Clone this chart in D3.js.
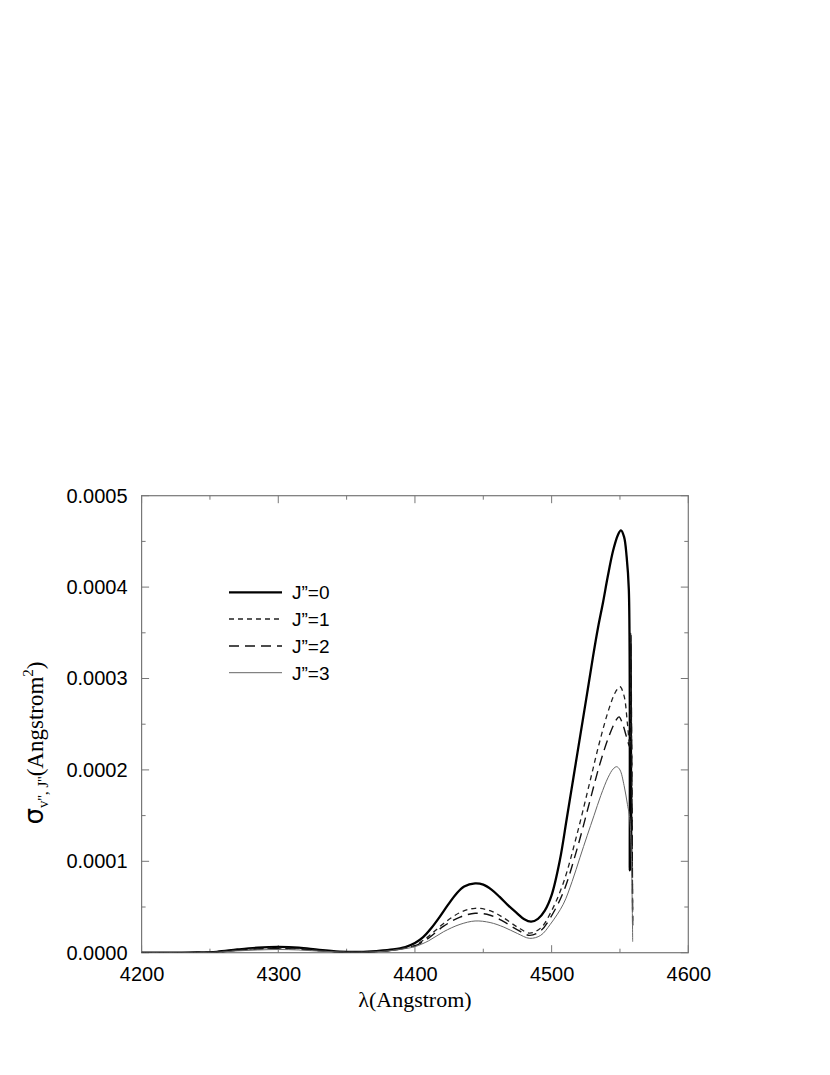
<!DOCTYPE html>
<html><head><meta charset="utf-8">
<script src="https://cdn.jsdelivr.net/npm/d3@7"></script>
<style>body{margin:0;background:#fff}svg{display:block}</style>
</head><body>
<svg id="chart" width="830" height="1075"></svg>
<script>
const seriesNames = ["J\u201D=0","J\u201D=1","J\u201D=2","J\u201D=3"];
const xTicks = [4200,4300,4400,4500,4600];
const yTicks = [0,0.0001,0.0002,0.0003,0.0004,0.0005];
const yTickLabels = ["0.0000","0.0001","0.0002","0.0003","0.0004","0.0005"];

const lambdaJ0 = [4200,4220,4240,4255,4270,4285,4300,4315,4330,4345,4360,4372,4384,4393,4400,4406,4412,4418,4424,4430,4436,4444,4450,4456,4462,4468,4474,4480,4485,4490,4495,4500,4506,4511,4516,4521,4526,4530.4,4534,4537.7,4541,4545,4548.5,4550.7,4553,4554.9,4556.5,4557.2,4557.7,4558.3];
const sigmaJ0 = [0,0,0.0000002,0.000001,0.0000035,0.0000055,0.0000063,0.0000055,0.000003,0.0000012,0.0000008,0.0000018,0.0000035,0.0000062,0.0000105,0.000017,0.000027,0.000039,0.000052,0.000064,0.0000725,0.0000759,0.0000745,0.000069,0.000061,0.000052,0.000044,0.0000365,0.0000339,0.000037,0.000046,0.000063,0.000101,0.000146,0.000192,0.000238,0.000284,0.000325,0.000356,0.000384,0.000411,0.00044,0.000457,0.000462,0.000455,0.000433,0.000397,0.00009,0.000347,0.00009];

const lambdaJ1 = [4200,4240,4255,4270,4285,4300,4315,4330,4345,4360,4372,4384,4393,4400,4410,4421,4433,4444,4455,4465,4475,4484,4492,4499,4508.5,4518.3,4528,4535,4542,4547,4550,4553,4555.5,4557.3,4557.8,4559.3];
const sigmaJ1 = [0,0.0000002,0.0000008,0.000003,0.0000045,0.000005,0.0000045,0.0000025,0.000001,0.0000007,0.0000015,0.000003,0.0000055,0.000008,0.000018,0.000032,0.000044,0.0000486,0.000046,0.000038,0.000028,0.0000215,0.000027,0.000043,0.000076,0.000128,0.000187,0.00023,0.000267,0.000286,0.000291,0.000281,0.00025,0.000225,0.00035,0.00003];

const lambdaJ2 = [4200,4240,4255,4270,4285,4300,4315,4330,4345,4360,4372,4384,4393,4400,4410,4421,4433,4444,4455,4465,4475,4484,4492,4499,4508.5,4518.3,4528,4535,4542,4547,4549.3,4552,4555,4557.3,4557.9,4559.3];
const sigmaJ2 = [0,0.0000002,0.0000007,0.0000025,0.000004,0.0000045,0.000004,0.0000022,0.0000009,0.0000006,0.0000013,0.0000028,0.000005,0.0000075,0.000016,0.000029,0.000039,0.0000431,0.000041,0.000034,0.000025,0.000019,0.000024,0.000038,0.000066,0.000112,0.000166,0.000205,0.000237,0.000254,0.000258,0.00025,0.000235,0.000225,0.00034,0.00003];

const lambdaJ3 = [4200,4240,4255,4270,4285,4300,4315,4330,4345,4360,4372,4384,4393,4400,4410,4421,4433,4444,4455,4465,4475,4484,4492,4499,4508.5,4515,4520.7,4526,4531,4536,4541.4,4545,4547.6,4550,4553,4555.5,4557.3,4559.3];
const sigmaJ3 = [0,0.0000001,0.0000005,0.000002,0.000003,0.0000035,0.000003,0.0000017,0.0000007,0.0000005,0.000001,0.0000025,0.0000045,0.0000066,0.000013,0.000023,0.000031,0.0000347,0.000033,0.000028,0.000021,0.0000157,0.000019,0.000031,0.000053,0.000078,0.000104,0.000128,0.00015,0.000172,0.000192,0.000201,0.0002035,0.0002,0.000183,0.000162,0.000145,0.000012];

const series = [
  {name: seriesNames[0], xs: lambdaJ0, ys: sigmaJ0, color:"#000", width:2.3, dash:null},
  {name: seriesNames[1], xs: lambdaJ1, ys: sigmaJ1, color:"#222", width:1.3, dash:"5,4"},
  {name: seriesNames[2], xs: lambdaJ2, ys: sigmaJ2, color:"#111", width:1.4, dash:"10,6"},
  {name: seriesNames[3], xs: lambdaJ3, ys: sigmaJ3, color:"#666", width:1.0, dash:null}
];

const svg = d3.select("#chart");
const L = 141.6, R = 688.3, T = 495.7, B = 952.7;
const x = d3.scaleLinear().domain([4200,4600]).range([L,R]);
const y = d3.scaleLinear().domain([0,0.0005]).range([B,T]);
const axisColor = "#777";
const tickFont = "Liberation Sans, Arial, sans-serif";

svg.append("defs").append("clipPath").attr("id","clip").append("rect")
  .attr("x",L).attr("y",T).attr("width",R-L).attr("height",B-T);

svg.append("rect").attr("x",L).attr("y",T).attr("width",R-L).attr("height",B-T)
  .attr("fill","none").attr("stroke",axisColor).attr("stroke-width",1.2);

const xMinor = d3.range(4250,4600,100);
const yMinor = d3.range(0.00005,0.0005,0.0001);

function ticksX(vals, len, yPos, dir){
  svg.append("g").selectAll("line").data(vals).join("line")
    .attr("x1",d=>x(d)).attr("x2",d=>x(d)).attr("y1",yPos).attr("y2",yPos+dir*len)
    .attr("stroke",axisColor).attr("stroke-width",1);
}
function ticksY(vals, len, xPos, dir){
  svg.append("g").selectAll("line").data(vals).join("line")
    .attr("y1",d=>y(d)).attr("y2",d=>y(d)).attr("x1",xPos).attr("x2",xPos+dir*len)
    .attr("stroke",axisColor).attr("stroke-width",1);
}
ticksX(xTicks,7.5,B,-1); ticksX(xMinor,4,B,-1);
ticksX(xTicks,7.5,T,1); ticksX(xMinor,4,T,1);
ticksY(yTicks,7.5,L,1); ticksY(yMinor,4,L,1);
ticksY(yTicks,7.5,R,-1); ticksY(yMinor,4,R,-1);

const xAxis = d3.axisBottom(x).tickValues(xTicks).tickFormat(d3.format("d")).tickSize(0).tickPadding(14);
const gx = svg.append("g").attr("transform",`translate(0,${B})`).call(xAxis);
gx.select(".domain").remove();
gx.selectAll("text").attr("font-family",tickFont).attr("font-size","20px").attr("fill","#000");

const yAxis = d3.axisLeft(y).tickValues(yTicks).tickFormat((d,i)=>yTickLabels[i]).tickSize(0).tickPadding(14);
const gy = svg.append("g").attr("transform",`translate(${L},0)`).call(yAxis);
gy.select(".domain").remove();
gy.selectAll("text").attr("font-family",tickFont).attr("font-size","20px").attr("fill","#000");

const line = d3.line().x(d=>x(d[0])).y(d=>y(d[1])).curve(d3.curveCatmullRom.alpha(0.5));
const gc = svg.append("g").attr("clip-path","url(#clip)");
series.forEach(s=>{
  const pts = s.xs.map((v,i)=>[v,s.ys[i]]);
  gc.append("path").datum(pts).attr("d",line).attr("fill","none")
    .attr("stroke",s.color).attr("stroke-width",s.width)
    .attr("stroke-dasharray",s.dash).attr("stroke-linejoin","round");
});

const legY = [592.3,619,646,672.7];
series.forEach((s,i)=>{
  svg.append("line").attr("x1",229).attr("x2",282).attr("y1",legY[i]).attr("y2",legY[i])
    .attr("stroke",s.color).attr("stroke-width",s.width).attr("stroke-dasharray",s.dash);
  svg.append("text").attr("x",292).attr("y",legY[i]).attr("dy","0.36em")
    .attr("font-family",tickFont).attr("font-size","19px").text(s.name);
});

svg.append("text").attr("x",(L+R)/2).attr("y",1007).attr("text-anchor","middle")
  .attr("font-family","Liberation Serif, Times New Roman, serif").attr("font-size","22px")
  .text("λ(Angstrom)");

const yt = svg.append("text").attr("transform","translate(43,743) rotate(-90)")
  .attr("text-anchor","middle")
  .attr("font-family","Liberation Serif, Times New Roman, serif").attr("font-size","23px");
yt.append("tspan").attr("font-family","DejaVu Sans, sans-serif").attr("font-size","26px").text("σ");
yt.append("tspan").attr("font-size","15px").attr("dy","5").text("v'', J''");
yt.append("tspan").attr("dy","-5").text("(Angstrom");
yt.append("tspan").attr("font-size","15px").attr("dy","-10").text("2");
yt.append("tspan").attr("dy","10").text(")");
</script>
</body></html>
